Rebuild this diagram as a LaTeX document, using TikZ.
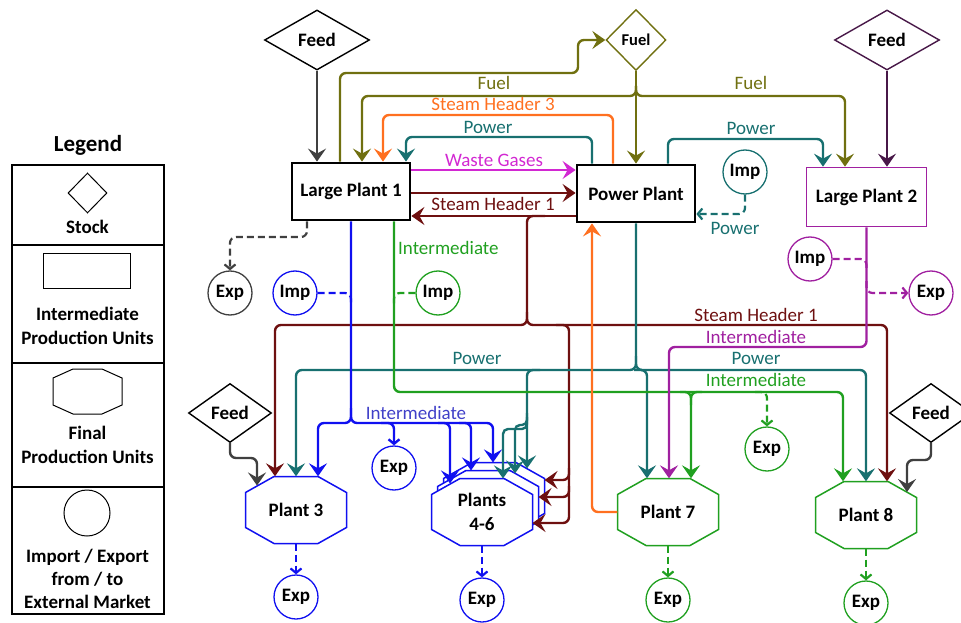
\documentclass[tikz,border=0pt]{standalone}
\usepackage{fontspec}
\setmainfont{Carlito}
\usetikzlibrary{shapes.geometric,arrows.meta,calc}
\definecolor{olv}{RGB}{112,112,16}
\definecolor{org}{RGB}{255,112,32}
\definecolor{tea}{RGB}{24,112,112}
\definecolor{mag}{RGB}{210,40,210}
\definecolor{drd}{RGB}{110,16,16}
\definecolor{blu}{RGB}{16,16,240}
\definecolor{blt}{RGB}{64,64,200}
\definecolor{grn}{RGB}{32,160,32}
\definecolor{pur}{RGB}{160,32,160}
\definecolor{dpur}{RGB}{72,24,72}
\definecolor{dgr}{RGB}{64,64,64}
\tikzset{
  nf/.style={font=\fontsize{19}{24}\selectfont\bfseries},
  lf/.style={font=\fontsize{19}{22}\selectfont},
  stock/.style={diamond, draw=#1, line width=1.4pt, fill=white, inner sep=0pt, nf},
  unitbox/.style={rectangle, draw=#1, fill=white, nf, inner sep=0pt},
  octtxt/.style={rectangle, minimum width=101pt, minimum height=67pt, inner sep=0pt, nf, align=center},
  mkt/.style={circle, draw=#1, line width=1.3pt, fill=white, minimum size=44pt, inner sep=0pt, nf},
  flow/.style={draw=#1, line width=2.4pt, rounded corners=6pt},
  dflow/.style={draw=#1, line width=2.2pt, rounded corners=6pt, dash pattern=on 7pt off 4pt},
  arw/.style={-{Stealth[length=13pt,width=18pt,inset=5pt]}},
  smallarw/.style={-{Straight Barb[length=4.5pt,width=11pt]}},
  lbl/.style={text=#1, lf, inner sep=0pt},
}
\newcommand\octshape[4]{%
  \draw[draw=#3, line width=#4, fill=white]
   (#1-50.5,#2-17.5) -- (#1-22,#2-33.5) -- (#1+22,#2-33.5) -- (#1+50.5,#2-17.5)
   -- (#1+50.5,#2+17.5) -- (#1+22,#2+33.5) -- (#1-22,#2+33.5) -- (#1-50.5,#2+17.5) -- cycle;}
\begin{document}
\begin{tikzpicture}[x=1pt,y=-1pt]
\useasboundingbox (0,0) rectangle (961,623);
% ---------------- legend
\node[font=\fontsize{23}{26}\selectfont\bfseries] (legT) at (88,145) {Legend};
\draw[line width=1.2pt] (12,165) rectangle (164,614);
\draw[line width=1.2pt] (12,245) -- (164,245) (12,363) -- (164,363) (12,487) -- (164,487);
\node[diamond, draw, line width=1pt, minimum width=39pt, minimum height=40pt, inner sep=0pt] (legD) at (87.5,193) {};
\node[nf] (legS) at (87.5,227) {Stock};
\node[draw, line width=1pt, minimum width=87pt, minimum height=35pt, inner sep=0pt] (legR) at (87,270.5) {};
\node[nf, align=center] (legI) at (87.5,325.5) {Intermediate\\Production Units};
\draw[line width=1pt] (53,378) -- (73,369) -- (102,369) -- (122,378) -- (122,405) -- (102,414) -- (73,414) -- (53,405) -- cycle;
\node[nf, align=center] (legF) at (87.5,445) {Final\\Production Units};
\node[circle, draw, line width=1pt, minimum size=46pt, inner sep=0pt] (legC) at (87,513) {};
\node[nf, align=center, font=\fontsize{19}{23}\selectfont\bfseries] (legM) at (87.5,579) {Import / Export\\from / to\\External Market};

% ---------------- stocks
\node[stock=black, minimum width=105pt, minimum height=60pt] (ftl) at (317,40) {Feed};
\node[stock=olv, minimum width=60pt, minimum height=61pt, font=\fontsize{16.5}{18}\selectfont\bfseries] (fuel) at (636,40) {Fuel};
\node[stock=dpur, minimum width=105pt, minimum height=60pt] (ftr) at (887,40) {Feed};
\node[stock=black, minimum width=83pt, minimum height=59pt] (fl) at (230,413) {Feed};
\node[stock=black, minimum width=83pt, minimum height=59pt] (fr) at (931,413) {Feed};

% ---------------- intermediate units
\node[unitbox=black, line width=2.8pt, minimum width=118pt, minimum height=57pt] (lp1) at (351,191.5) {Large Plant 1};
\node[unitbox=black, line width=2.8pt, minimum width=118pt, minimum height=57pt] (pp) at (636,193.5) {Power Plant};
\node[unitbox=pur, line width=1.6pt, minimum width=120pt, minimum height=59pt] (lp2) at (866.5,197) {Large Plant 2};

% ---------------- final units
\octshape{296}{510}{blu}{1.5pt}
\node[octtxt] (p3) at (296,510) {Plant 3};
\octshape{494}{496}{blu}{1.5pt}
\coordinate (p46k) at (494,496);
\octshape{488}{504}{blu}{1.5pt}
\coordinate (p46m) at (488,504);
\octshape{482}{512}{blu}{1.5pt}
\node[octtxt] (p46) at (482,512) {Plants\\4-6};
\octshape{668}{512}{grn}{1.5pt}
\node[octtxt] (p7) at (668,512) {Plant 7};
\octshape{866}{515}{grn}{1.5pt}
\node[octtxt] (p8) at (866,515) {Plant 8};

% ---------------- markets
\node[mkt=tea] (impt) at (745,172) {Imp};
\node[mkt=dgr] (expk) at (230,293) {Exp};
\node[mkt=blu] (impb) at (295,293) {Imp};
\node[mkt=grn] (impg) at (438,293) {Imp};
\node[mkt=pur] (impp) at (810,259) {Imp};
\node[mkt=pur] (expp) at (931,293) {Exp};
\node[mkt=blu] (expm) at (394,468) {Exp};
\node[mkt=grn] (expg) at (767,449) {Exp};
\node[mkt=blu] (exp3) at (296,597) {Exp};
\node[mkt=blu] (exp46) at (482,600) {Exp};
\node[mkt=grn] (exp7) at (668,600) {Exp};
\node[mkt=grn] (exp8) at (866,603) {Exp};

% ---------------- feeds
\draw[flow=dgr, arw] (ftl.south) -- (ftl.south |- lp1.north);
\draw[flow=dpur, arw] (ftr.south) -- (ftr.south |- lp2.north);
\draw[flow=dgr, arw] (fl.south) -- (230,458) -- (257,458) -- ($(p3)+(-39,-24.5)$);
\draw[flow=dgr, arw] (fr.south) -- (931,460) -- (907,460) -- ($(p8)+(41,-23)$);

% ---------------- fuel
\draw[flow=olv, arw] ([xshift=-11pt]lp1.north) -- (340,73) -- (578,73) -- (578,40) -- (fuel.west);
\draw[flow=olv, arw] (fuel.south) -- (pp.north);
\draw[flow=olv, arw] (636,86) -- (636,96) -- (362,96) -- ([xshift=11pt]lp1.north);
\draw[flow=olv, arw] (636,86) -- (636,96) -- (845,96) -- ([xshift=-21.5pt]lp2.north);
\node[lbl=olv] (lfuel1) at (494,83) {Fuel};
\node[lbl=olv] (lfuel2) at (751,83) {Fuel};

% ---------------- between LP1 and power plant
\draw[flow=org, arw] ([xshift=-23pt]pp.north) -- (613,115) -- (383,115) -- ([xshift=32pt]lp1.north);
\node[lbl=org] (lsh3) at (493,104) {Steam Header 3};
\draw[flow=tea, arw] ([xshift=-44pt]pp.north) -- (592,137) -- (406,137) -- ([xshift=55pt]lp1.north);
\node[lbl=tea] (lpw1) at (488,127) {Power};
\draw[flow=mag, arw] ([yshift=21.5pt]lp1.east) -- ([yshift=23.5pt]pp.west);
\node[lbl=mag] (lwg) at (494,160) {Waste Gases};
\draw[flow=drd, arw] ([yshift=-1.5pt]lp1.east) -- ([yshift=0.5pt]pp.west);
\draw[flow=drd, arw] ([yshift=-22.5pt]pp.west) -- ([yshift=-24.5pt]lp1.east);
\node[lbl=drd] (lsh1) at (493,204) {Steam Header 1};

% ---------------- power plant to LP2, imports
\draw[flow=tea, arw] ([xshift=32pt]pp.north) -- (668,139) -- (823,139) -- ([xshift=-43.5pt]lp2.north);
\node[lbl=tea] (lpw2) at (751,128) {Power};
\draw[dflow=tea, smallarw] (impt.south) |- ([yshift=-20.5pt]pp.east);
\node[lbl=tea] (lpw3) at (735,228) {Power};
\draw[dflow=dgr, smallarw] ([xshift=-44pt]lp1.south) -- (307,237) -- (230,237) -- (expk.north);

% ---------------- steam header 1 bus
\draw[flow=drd, arw] (545,216) -- (527,216) -- (527,325) -- (275,325) -- ([xshift=-21pt]p3.north);
\draw[flow=drd, arw] (527,312) -- (527,325) -- (887,325) -- ([xshift=21pt]p8.north);
\draw[flow=drd, arw] (556,325) -- (569,325) -- (569,523) -- ($(p46)+(50.5,11)$);
\draw[flow=drd, arw] (569,486) -- (569,497) -- ($(p46m)+(50.5,-7)$);
\draw[flow=drd, arw] (569,468) -- (569,480) -- ($(p46k)+(50.5,-16)$);
\node[lbl=drd] (lsh1b) at (756,315) {Steam Header 1};

% ---------------- power bus
\draw[flow=tea, arw] (pp.south) -- (636,370) -- (296,370) -- (p3.north);
\draw[flow=tea, arw] (636,356) -- (636,370) -- (866,370) -- (p8.north);
\draw[flow=tea, arw] (634,370) -- (647,370) -- ([xshift=-21pt]p7.north);
\draw[flow=tea, arw] (540,370) -- (527,370) -- ($(p46k)+(33,-27.5)$);
\draw[flow=tea, arw, rounded corners=5pt] (527,413) -- (527,425) -- (515,425) -- ($(p46m)+(27,-30.5)$);
\draw[flow=tea, arw, rounded corners=5pt] (527,417) -- (527,429) -- (503,429) -- ($(p46)+(21,-33.5)$);
\node[lbl=tea] (lpw4) at (477,358) {Power};
\node[lbl=tea] (lpw5) at (756,358) {Power};

% ---------------- blue intermediate
\draw[flow=blu, arw] (lp1.south) -- (351,423) -- (318,423) -- ([xshift=22pt]p3.north);
\draw[flow=blu, arw] (351,408) -- (351,423) -- (493,423) -- ($(p46k)+(-1,-33.5)$);
\draw[flow=blu, smallarw] (381,423) -- (394,423) -- (expm.north);
\draw[flow=blu, arw] (438,423) -- (450,423) -- ($(p46)+(-32,-28.5)$);
\draw[flow=blu, arw] (459,423) -- (471,423) -- ($(p46m)+(-17,-33.5)$);
\draw[dflow=blu] (impb.east) -- (351,293) -- (351,305);
\node[lbl=blt] (lint1) at (416,413) {Intermediate};

% ---------------- green intermediate
\draw[flow=grn, arw] ([xshift=43pt]lp1.south) -- (394,392) -- (843,392) -- ([xshift=-23pt]p8.north);
\draw[dflow=grn] (impg.west) -- (394,293) -- (394,305);
\draw[flow=grn, arw] (680,392) -- (691,392) -- ([xshift=23pt]p7.north);
\draw[flow=grn] (702,392) -- (691,392) -- (691,405);
\draw[dflow=grn, smallarw] (755,392) -- (767,392) -- (expg.north);
\node[lbl=grn, anchor=west] (lint2) at (398,248) {Intermediate};
\node[lbl=grn] (lint3) at (756,380) {Intermediate};

% ---------------- purple intermediate
\draw[flow=pur, arw] (lp2.south) -- (866.5,347) -- (669,347) -- ([xshift=1pt]p7.north);
\draw[dflow=pur] (impp.east) -- (866.5,259) -- (866.5,270);
\draw[dflow=pur, smallarw] (866.5,281) -- (866.5,293) -- (expp.west);
\node[lbl=pur] (lint4) at (756,337) {Intermediate};

% ---------------- steam header 3 return
\draw[flow=org, arw] (p7.west) -| ([xshift=-44pt]pp.south);

% ---------------- exports
\draw[dflow=blu, smallarw] (p3.south) -- (exp3.north);
\draw[dflow=blu, smallarw] (p46.south) -- (exp46.north);
\draw[dflow=grn, smallarw] (p7.south) -- (exp7.north);
\draw[dflow=grn, smallarw] (p8.south) -- (exp8.north);
\end{tikzpicture}
\end{document}
